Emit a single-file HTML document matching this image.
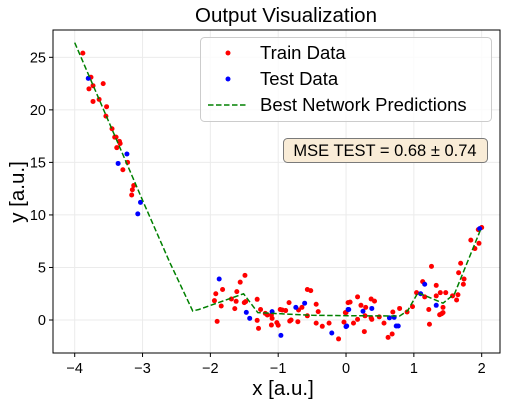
<!DOCTYPE html>
<html><head><meta charset="utf-8"><style>
body{margin:0;background:#fff;}
svg{display:block;font-family:"Liberation Sans","DejaVu Sans",sans-serif;}
</style></head><body>
<svg id="chart" width="508" height="405"></svg>
<script>
const trainX=[-3.88,-3.76,-3.58,-3.79,-3.73,-3.73,-3.64,-3.53,-3.54,-3.45,-3.41,-3.39,-3.34,-3.33,-3.38,-3.22,-3.29,-3.13,-3.15,-3.16,
-1.49,-1.56,-1.82,-1.92,-1.94,-1.84,-1.90,-1.69,-1.61,-1.62,-1.64,-1.50,-1.48,-1.31,-1.31,-1.29,-1.26,-1.19,-1.16,-1.10,-1.09,-1.10,-1.02,-1.00,-0.97,-0.94,-0.89,-0.84,-0.83,-0.81,-0.71,-0.70,-0.65,-0.57,-0.52,-0.57,-0.44,-0.41,-0.44,-0.35,-0.25,-0.11,-0.03,-0.01,0.03,
0.00,0.06,0.17,0.22,0.29,0.28,0.17,0.11,0.27,0.37,0.42,0.37,0.38,0.49,0.56,0.69,0.79,0.90,0.98,0.62,0.68,1.04,1.13,1.16,1.22,1.26,1.33,1.39,1.33,1.43,1.38,1.41,1.43,1.23,1.47,1.57,1.65,1.63,1.66,1.69,1.74,1.73,1.84,1.90,1.96,1.95,2.00];
const trainY=[25.4,23.1,22.5,22.0,22.3,20.8,21.0,20.3,19.4,18.2,17.4,17.4,17.0,16.8,16.4,15.0,14.3,12.8,12.4,11.9,
4.25,3.6,2.9,2.5,1.84,1.33,-0.13,2.0,2.7,1.78,1.08,1.65,1.75,1.97,-0.03,-0.8,1.0,0.63,0.48,0.48,0.16,-0.48,-0.25,-0.5,1.0,0.95,0.9,1.65,-0.1,0,-0.16,0.95,1.2,2.9,2.8,0.4,1.5,0.8,-0.3,-0.6,-0.3,-1.8,-0.2,0.7,1.65,
0.7,1.7,2.2,1.4,1.2,0.4,0.06,-0.3,-1.1,2.0,1.8,0.2,0.06,0.3,-0.3,0.76,1.1,0.76,1.27,-1.65,-1.33,2.6,3.65,2.2,1.0,5.1,3.3,2.6,2.3,1.2,0.5,0.6,0.7,-0.4,2.6,2.3,2.4,1.9,4.5,5.4,3.9,3.4,7.6,6.8,7.3,8.6,8.8];
const testX=[-3.80,-3.23,-3.36,-3.03,-3.07,-1.87,-1.47,-1.42,-1.09,-0.96,-0.74,-0.61,-0.21,0.00,0.03,0.04,0.01,0.25,0.38,0.64,0.71,0.74,0.77,1.10,1.16,1.33,1.97];
const testY=[23.0,15.8,14.9,11.2,10.1,3.9,0.73,0.16,0.8,-1.46,1.2,1.6,-1.24,-0.63,1.0,1.0,-0.57,0.83,1.1,0.2,0.25,-0.57,-0.57,2.5,3.4,1.4,8.7];
const predX=[-4.0,-3.5,-3.0,-2.6,-2.26,-2.17,-1.51,-1.30,-0.5,0.04,0.79,0.91,1.06,1.43,1.6,1.99];
const predY=[26.4,18.9,11.4,5.5,0.86,1.0,2.5,0.7,0.45,0.41,0.38,0.9,2.6,1.6,2.5,8.7];
const xTicks=[-4,-3,-2,-1,0,1,2];
const yTicks=[0,5,10,15,20,25];

const L=53,R=500,T=30,B=353;
const X0=-4.32,X1=2.27,Y0=-3.14,Y1=27.6;
const sx=v=>L+(v-X0)/(X1-X0)*(R-L);
const sy=v=>B-(v-Y0)/(Y1-Y0)*(B-T);
const fmt=t=>t<0?'\u2212'+Math.abs(t):String(t);
const svg=document.getElementById('chart');
const NS='http://www.w3.org/2000/svg';
function mk(tag,attrs,parent){const e=document.createElementNS(NS,tag);for(const k in attrs)e.setAttribute(k,attrs[k]);(parent||svg).appendChild(e);return e;}

mk('rect',{x:L,y:T,width:R-L,height:B-T,fill:'#fff'});
xTicks.forEach(t=>{
  const g=mk('line',{x1:sx(t),x2:sx(t),y1:T,y2:B,stroke:'#ebebeb','stroke-width':1});
  
  
  mk('line',{x1:sx(t),x2:sx(t),y1:B,y2:B+4,stroke:'#000'});
  const tx=mk('text',{x:sx(t),y:B+20,'text-anchor':'middle','font-size':14.5});
  tx.textContent=fmt(t);
  
  
});
yTicks.forEach(t=>{
  const g=mk('line',{x1:L,x2:R,y1:sy(t),y2:sy(t),stroke:'#ebebeb','stroke-width':1});
  
  
  mk('line',{x1:L-4,x2:L,y1:sy(t),y2:sy(t),stroke:'#000'});
  const tx=mk('text',{x:L-7,y:sy(t)+5,'text-anchor':'end','font-size':14.5});
  tx.textContent=fmt(t);
  
  
});

trainX.forEach((x,i)=>{
  const c=mk('circle',{cx:sx(x),cy:sy(trainY[i]),r:2.5,fill:'#ff0000'});
  
  
});
testX.forEach((x,i)=>{
  const c=mk('circle',{cx:sx(x),cy:sy(testY[i]),r:2.5,fill:'#0000ff'});
  
  
});
const pl=mk('polyline',{points:predX.map((x,i)=>sx(x)+','+sy(predY[i])).join(' '),fill:'none',stroke:'#008000','stroke-width':1.5,'stroke-dasharray':'5.5,2.5'});



const fr=mk('rect',{x:L,y:T,width:R-L,height:B-T,fill:'none',stroke:'#000','stroke-width':1});


</script>
<svg style="position:absolute;left:0;top:0" width="508" height="405">
<text x="286" y="22" text-anchor="middle" font-size="20.5">Output Visualization</text>
<text x="283" y="395" text-anchor="middle" font-size="20.5">x [a.u.]</text>
<text x="24" y="192" text-anchor="middle" font-size="20.5" transform="rotate(-90 24 192)">y [a.u.]</text>
<g>
<rect x="200.5" y="37.5" width="291" height="84" rx="4" fill="#fff" fill-opacity="0.8" stroke="#cccccc"/>
<g><circle cx="228" cy="53" r="2.5" fill="#ff0000"/><text x="260" y="59" font-size="18.5">Train Data</text></g>
<g><circle cx="228" cy="79" r="2.5" fill="#0000ff"/><text x="260" y="85" font-size="18.5">Test Data</text></g>
<g><line x1="208" x2="248" y1="105" y2="105" stroke="#008000" stroke-width="1.5" stroke-dasharray="5.5,2.5"/><text x="260" y="111" font-size="18.5">Best Network Predictions</text></g>
</g>
<g>
<rect x="283.5" y="138.5" width="204" height="24" rx="4" fill="#f9ecd7" stroke="#7a7a7a"/>
<text x="385" y="156" text-anchor="middle" font-size="16.5">MSE TEST = 0.68 ± 0.74</text>
</g>
</svg>
</body></html>
